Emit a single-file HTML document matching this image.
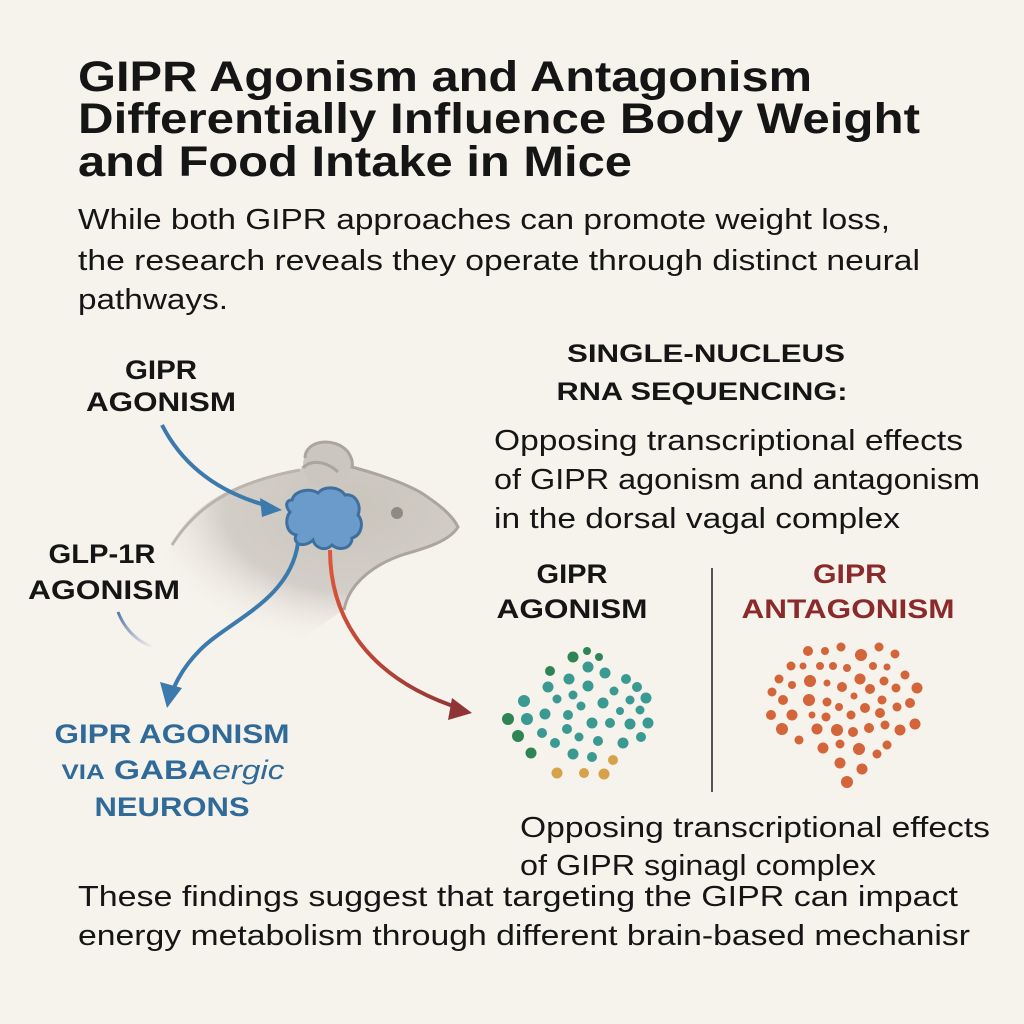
<!DOCTYPE html>
<html><head><meta charset="utf-8"><style>
html,body{margin:0;padding:0;background:#f6f2ec;}
svg{display:block;}
text{font-family:"Liberation Sans",sans-serif;}
</style></head><body>
<svg width="1024" height="1024" viewBox="0 0 1024 1024" xmlns="http://www.w3.org/2000/svg">
<defs>
<radialGradient id="bodyg" cx="0.65" cy="0.3" r="0.75">
<stop offset="0" stop-color="#c9c4bc"/><stop offset="0.6" stop-color="#d3cec7"/><stop offset="1" stop-color="#f6f2ec" stop-opacity="0"/>
</radialGradient>
<linearGradient id="redg" x1="0" y1="0" x2="1" y2="1">
<stop offset="0" stop-color="#e0563a"/><stop offset="1" stop-color="#8f3535"/>
</linearGradient>
<linearGradient id="faint" x1="0" y1="0" x2="1" y2="1">
<stop offset="0" stop-color="#5a78a8"/><stop offset="1" stop-color="#5a78a8" stop-opacity="0"/>
</linearGradient>
</defs>
<rect width="1024" height="1024" fill="#f6f2ec"/>

<g font-weight="bold" font-size="43" fill="#151515">
<text x="78" y="91" textLength="734" lengthAdjust="spacingAndGlyphs">GIPR Agonism and Antagonism</text>
<text x="78" y="133" textLength="842" lengthAdjust="spacingAndGlyphs">Differentially Influence Body Weight</text>
<text x="78" y="176" textLength="554" lengthAdjust="spacingAndGlyphs">and Food Intake in Mice</text>
</g>
<g font-size="29" fill="#151515">
<text x="78" y="229" textLength="812" lengthAdjust="spacingAndGlyphs">While both GIPR approaches can promote weight loss,</text>
<text x="78" y="270" textLength="842" lengthAdjust="spacingAndGlyphs">the research reveals they operate through distinct neural</text>
<text x="78" y="309" textLength="150" lengthAdjust="spacingAndGlyphs">pathways.</text>
</g>

<!-- mouse -->
<path d="M165,560 C180,510 230,480 300,470 C310,450 340,440 350,465 C375,472 400,482 420,492 C440,505 455,515 458,525 C450,540 435,548 405,555 C380,562 360,575 350,592 C345,600 343,606 343,610 L300,640 L200,640 Z" fill="url(#bodyg)"/>
<circle cx="327" cy="465" r="24" fill="#cbc6bf"/>
<path d="M172,545 C200,500 245,480 300,470" fill="none" stroke="#b9b4ad" stroke-width="3"/>
<path d="M305,458 C305,440 335,436 348,452 C352,458 353,463 352,467 C378,474 402,482 420,492 C440,505 452,515 458,527 C450,540 430,547 405,554 C380,562 362,575 352,590 C347,598 345,604 344,610" fill="none" stroke="#aaa59e" stroke-width="3"/>
<path d="M303,468 C310,460 325,460 338,472" fill="none" stroke="#aaa59e" stroke-width="3"/>
<circle cx="397" cy="513" r="6" fill="#8e8a84"/>

<!-- blob -->
<path d="M292,500 C295,490 310,488 318,493 C325,485 340,487 345,495 C355,493 362,505 358,515 C364,522 362,535 352,538 C352,548 340,552 332,545 C325,552 315,548 313,540 C305,548 292,545 296,535 C285,532 285,518 290,512 C284,505 287,500 292,500 Z" fill="#6b9bcb" stroke="#3f6f9f" stroke-width="3"/>

<!-- arrows -->
<path d="M162,425 C185,470 225,495 272,507" fill="none" stroke="#3c79ad" stroke-width="4"/>
<polygon points="282,510 260,498 262,517" fill="#3c79ad"/>
<path d="M298,543 C290,600 230,620 200,650 C180,670 172,690 170,700" fill="none" stroke="#3c79ad" stroke-width="4"/>
<polygon points="167,708 160,682 182,688" fill="#3c79ad"/>
<path d="M330,550 C330,620 370,680 462,709" fill="none" stroke="url(#redg)" stroke-width="4"/>
<polygon points="472,713 452,698 448,720" fill="#8f3535"/>
<path d="M118,612 C125,630 138,642 153,647" fill="none" stroke="url(#faint)" stroke-width="3"/>

<!-- left labels -->
<g font-weight="bold" font-size="27" fill="#151515" text-anchor="middle">
<text x="161" y="379" textLength="72" lengthAdjust="spacingAndGlyphs">GIPR</text>
<text x="161" y="411" textLength="150" lengthAdjust="spacingAndGlyphs">AGONISM</text>
<text x="102" y="563" textLength="107" lengthAdjust="spacingAndGlyphs">GLP-1R</text>
<text x="104" y="599" textLength="152" lengthAdjust="spacingAndGlyphs">AGONISM</text>
</g>
<g font-weight="bold" font-size="27" fill="#2f6a98" text-anchor="middle">
<text x="172" y="743" textLength="235" lengthAdjust="spacingAndGlyphs">GIPR AGONISM</text>
<text x="173" y="779" textLength="223" lengthAdjust="spacingAndGlyphs"><tspan font-size="21">VIA</tspan> GABA<tspan font-style="italic" font-weight="normal">ergic</tspan></text>
<text x="172" y="816" textLength="155" lengthAdjust="spacingAndGlyphs">NEURONS</text>
</g>

<!-- right -->
<g font-weight="bold" font-size="25" fill="#151515" text-anchor="middle">
<text x="706" y="362" textLength="278" lengthAdjust="spacingAndGlyphs">SINGLE-NUCLEUS</text>
<text x="702" y="400" textLength="291" lengthAdjust="spacingAndGlyphs">RNA SEQUENCING:</text>
</g>
<g font-size="29" fill="#151515">
<text x="494" y="450" textLength="469" lengthAdjust="spacingAndGlyphs">Opposing transcriptional effects</text>
<text x="494" y="489" textLength="486" lengthAdjust="spacingAndGlyphs">of GIPR agonism and antagonism</text>
<text x="494" y="528" textLength="406" lengthAdjust="spacingAndGlyphs">in the dorsal vagal complex</text>
<text x="520" y="837" textLength="470" lengthAdjust="spacingAndGlyphs">Opposing transcriptional effects</text>
<text x="520" y="875" textLength="356" lengthAdjust="spacingAndGlyphs">of GIPR sginagl complex</text>
<text x="78" y="906" textLength="880" lengthAdjust="spacingAndGlyphs">These findings suggest that targeting the GIPR can impact</text>
<text x="78" y="945" textLength="892" lengthAdjust="spacingAndGlyphs">energy metabolism through different brain-based mechanisr</text>
</g>
<g font-weight="bold" font-size="27" text-anchor="middle">
<text x="572" y="583" fill="#151515" textLength="71" lengthAdjust="spacingAndGlyphs">GIPR</text>
<text x="572" y="618" fill="#151515" textLength="151" lengthAdjust="spacingAndGlyphs">AGONISM</text>
<text x="850" y="583" fill="#8b2a2a" textLength="74" lengthAdjust="spacingAndGlyphs">GIPR</text>
<text x="848" y="618" fill="#8b2a2a" textLength="213" lengthAdjust="spacingAndGlyphs">ANTAGONISM</text>
</g>
<line x1="712" y1="568" x2="712" y2="792" stroke="#555" stroke-width="2"/>

<!-- teal dots -->
<g fill="#3a9a92">
<circle cx="588" cy="667" r="5.5"/><circle cx="605" cy="673" r="5.5"/><circle cx="569" cy="679" r="5.5"/><circle cx="626" cy="679" r="5"/><circle cx="548" cy="687" r="5.5"/><circle cx="588" cy="686" r="5.5"/><circle cx="614" cy="691" r="4.5"/><circle cx="637" cy="687" r="5"/><circle cx="524" cy="701" r="6"/><circle cx="557" cy="699" r="4.5"/><circle cx="573" cy="695" r="4.5"/><circle cx="603" cy="703" r="5.5"/><circle cx="630" cy="700" r="4.5"/><circle cx="646" cy="698" r="5.5"/><circle cx="581" cy="706" r="4.5"/><circle cx="527" cy="719" r="6"/><circle cx="545" cy="714" r="5.5"/><circle cx="568" cy="715" r="5"/><circle cx="620" cy="711" r="4"/><circle cx="640" cy="710" r="4.5"/><circle cx="592" cy="723" r="5.5"/><circle cx="610" cy="723" r="5"/><circle cx="630" cy="724" r="5.5"/><circle cx="648" cy="723" r="5.5"/><circle cx="542" cy="733" r="5"/><circle cx="567" cy="729" r="5"/><circle cx="555" cy="743" r="5"/><circle cx="579" cy="737" r="4.5"/><circle cx="598" cy="741" r="5"/><circle cx="623" cy="743" r="5.5"/><circle cx="641" cy="737" r="5"/><circle cx="573" cy="754" r="5.5"/><circle cx="592" cy="757" r="5"/>
</g>
<g fill="#2f8456">
<circle cx="573" cy="657" r="5.5"/><circle cx="587" cy="651" r="4"/><circle cx="599" cy="657" r="4"/><circle cx="550" cy="671" r="5"/><circle cx="508" cy="719" r="6"/><circle cx="518" cy="736" r="6"/><circle cx="531" cy="753" r="5.5"/>
</g>
<g fill="#d8a24a">
<circle cx="613" cy="760" r="5"/><circle cx="557" cy="773" r="5.5"/><circle cx="584" cy="773" r="5"/><circle cx="604" cy="774" r="5.5"/>
</g>
<!-- orange dots -->
<g fill="#d4643a">
<circle cx="808" cy="651" r="5"/><circle cx="825" cy="651" r="4"/><circle cx="841" cy="647" r="4.5"/><circle cx="861" cy="655" r="6"/><circle cx="879" cy="647" r="4.5"/><circle cx="895" cy="654" r="4.5"/>
<circle cx="791" cy="666" r="4.5"/><circle cx="803" cy="666" r="3.5"/><circle cx="820" cy="666" r="4"/><circle cx="833" cy="666" r="4"/><circle cx="847" cy="668" r="4"/><circle cx="873" cy="666" r="4"/><circle cx="887" cy="667" r="3.5"/><circle cx="905" cy="675" r="4.5"/>
<circle cx="779" cy="679" r="4.5"/><circle cx="792" cy="685" r="4"/><circle cx="810" cy="681" r="6"/><circle cx="827" cy="683" r="3.5"/><circle cx="842" cy="687" r="5"/><circle cx="860" cy="679" r="5.5"/><circle cx="870" cy="689" r="5"/><circle cx="884" cy="681" r="4.5"/><circle cx="896" cy="688" r="4.5"/><circle cx="917" cy="688" r="5.5"/>
<circle cx="772" cy="692" r="4.5"/><circle cx="783" cy="700" r="5"/><circle cx="809" cy="700" r="6"/><circle cx="827" cy="702" r="4.5"/><circle cx="854" cy="696" r="3.5"/><circle cx="882" cy="700" r="4.5"/><circle cx="897" cy="707" r="4.5"/><circle cx="910" cy="703" r="5"/><circle cx="839" cy="707" r="4"/><circle cx="865" cy="708" r="5"/>
<circle cx="771" cy="715" r="5"/><circle cx="792" cy="715" r="5.5"/><circle cx="812" cy="715" r="3.5"/><circle cx="826" cy="717" r="4.5"/><circle cx="851" cy="715" r="4.5"/><circle cx="880" cy="713" r="5"/>
<circle cx="782" cy="729" r="6"/><circle cx="817" cy="729" r="5.5"/><circle cx="837" cy="730" r="6"/><circle cx="853" cy="732" r="5"/><circle cx="869" cy="728" r="5"/><circle cx="885" cy="725" r="4.5"/><circle cx="900" cy="730" r="5.5"/><circle cx="915" cy="724" r="5.5"/>
<circle cx="799" cy="740" r="4.5"/><circle cx="840" cy="744" r="4.5"/><circle cx="823" cy="748" r="5.5"/><circle cx="859" cy="749" r="6"/><circle cx="877" cy="754" r="4.5"/><circle cx="887" cy="745" r="4.5"/>
<circle cx="840" cy="763" r="5.5"/><circle cx="862" cy="769" r="5.5"/><circle cx="847" cy="782" r="6"/>
</g>
</svg>
</body></html>
